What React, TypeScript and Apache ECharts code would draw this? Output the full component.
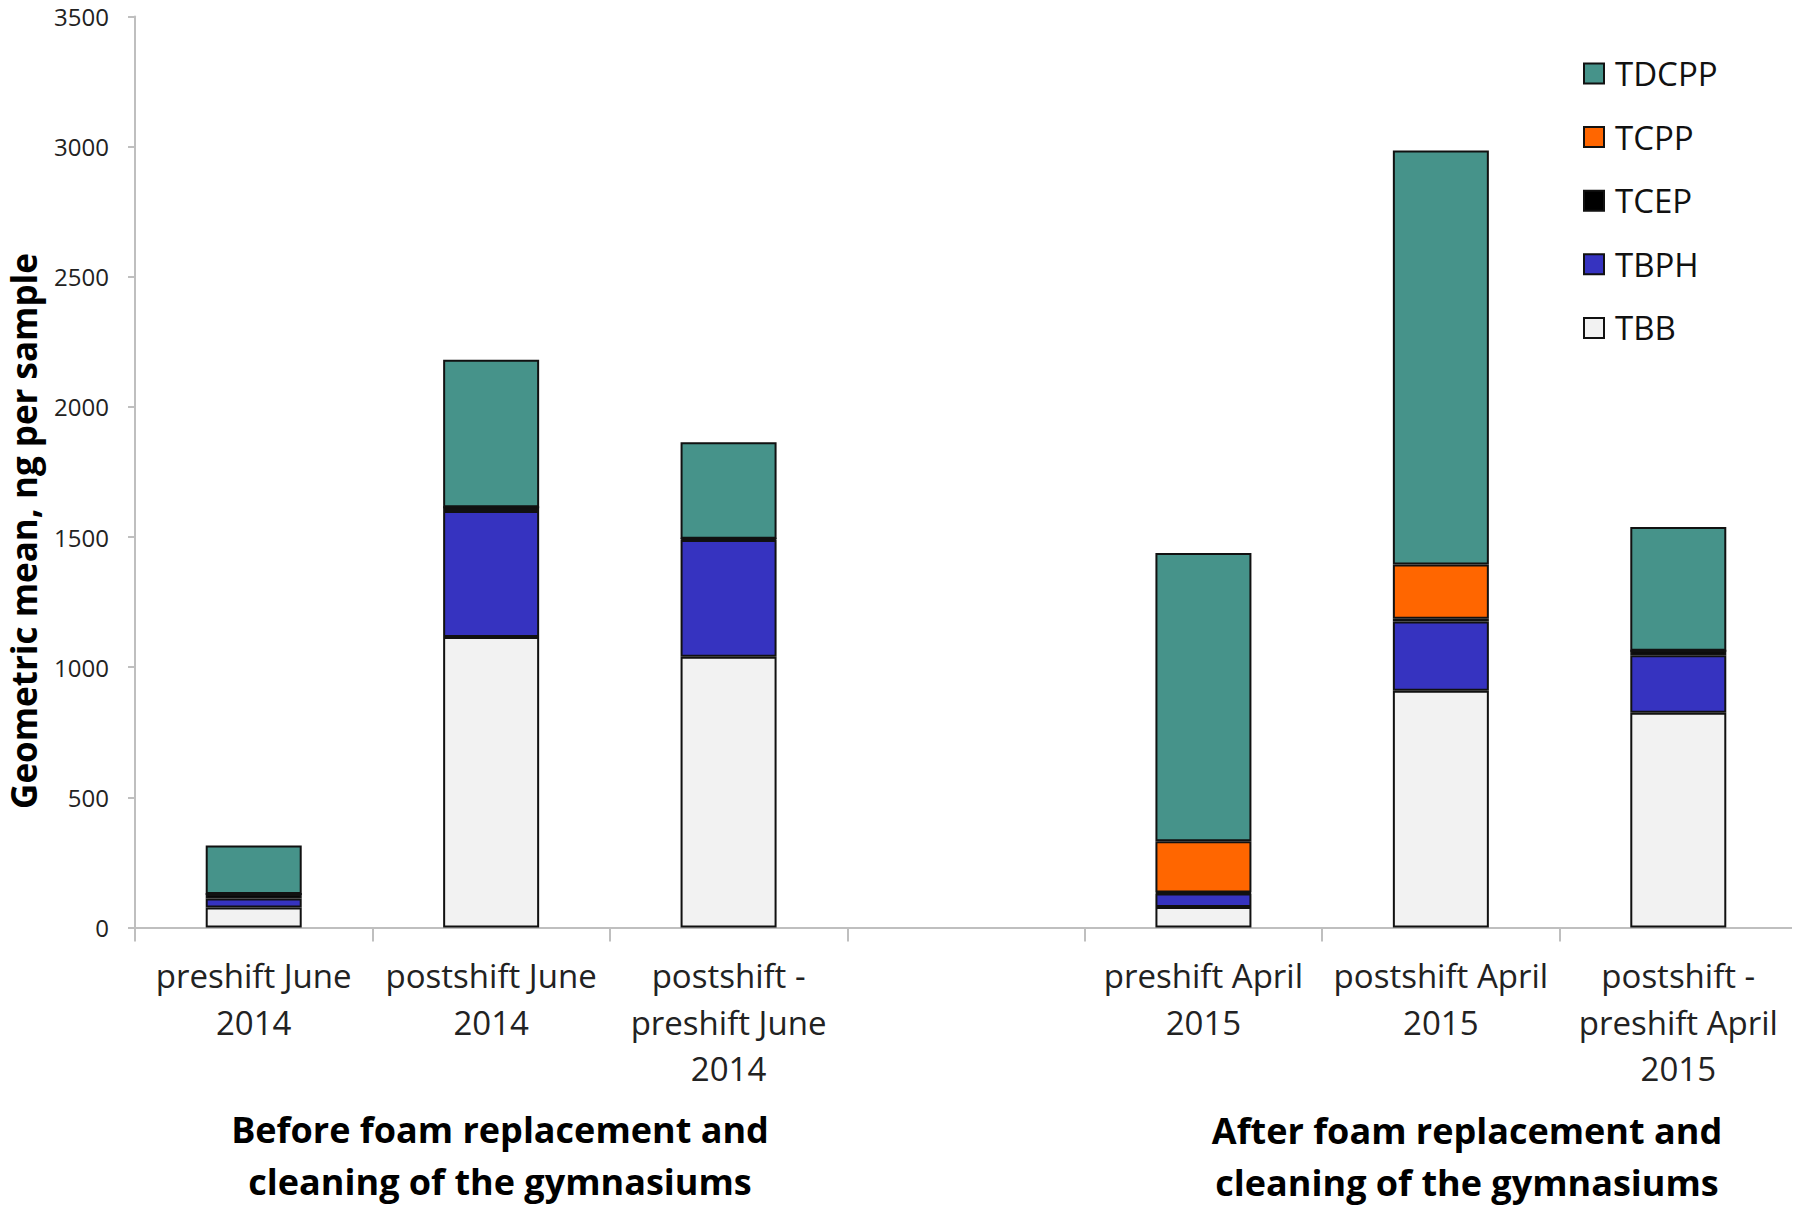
import React, { useEffect, useRef } from "react";
import * as echarts from "echarts";

const categories = [
  "preshift June\n2014",
  "postshift June\n2014",
  "postshift -\npreshift June\n2014",
  "",
  "preshift April\n2015",
  "postshift April\n2015",
  "postshift -\npreshift April\n2015",
];
const seriesNames = ["TBB", "TBPH", "TCEP", "TCPP", "TDCPP"];
const legendOrder = ["TDCPP", "TCPP", "TCEP", "TBPH", "TBB"];
const TBB = [77, 1116, 1040, null, 79, 910, 825];
const TBPH = [34, 484, 449, null, 52, 266, 221];
const TCEP = [18, 15, 5, null, 3, 10, 17];
const TCPP = [0, 0, 0, null, 197, 209, 0];
const TDCPP = [186, 566, 370, null, 1108, 1590, 476];
const yTicks = { min: 0, max: 3500, interval: 500 };
const groupLabels = [
  "Before foam replacement and\ncleaning of the gymnasiums",
  "After foam replacement and\ncleaning of the gymnasiums",
];
const yAxisTitle = "Geometric mean, ng per sample";

const colors: Record<string, string> = {
  TBB: "#f2f2f2",
  TBPH: "#3633c0",
  TCEP: "#000000",
  TCPP: "#ff6600",
  TDCPP: "#46938a",
};
const values: Record<string, (number | null)[]> = { TBB, TBPH, TCEP, TCPP, TDCPP };

const FONT = "'Open Sans', 'Noto Sans', sans-serif";

export default function App() {
  const ref = useRef<HTMLDivElement>(null);
  useEffect(() => {
    if (!ref.current) return;
    const chart = echarts.init(ref.current, null, { renderer: "svg" });
    chart.setOption({
      animation: false,
      backgroundColor: "#ffffff",
      textStyle: { fontFamily: FONT },
      grid: {
        left: 135,
        right: 3,
        top: 16.5,
        bottom: 278.5,
        containLabel: false,
        outerBoundsMode: "none",
      },
      legend: {
        orient: "vertical",
        left: 1583,
        top: 57,
        padding: 0,
        data: legendOrder,
        itemWidth: 20,
        itemHeight: 20,
        itemGap: 30.6,
        icon: "rect",
        selectedMode: false,
        textStyle: { fontSize: 33, color: "#111111", padding: [0, 0, 0, 6], fontFamily: FONT },
      },
      xAxis: {
        type: "category",
        data: categories,
        axisLine: { lineStyle: { color: "#bfbfbf", width: 2 } },
        axisTick: { show: true, length: 14, lineStyle: { color: "#bfbfbf", width: 2 } },
        axisLabel: {
          interval: 0,
          fontSize: 33,
          lineHeight: 46.5,
          margin: 25,
          color: "#222222",
          fontFamily: FONT,
        },
      },
      yAxis: {
        type: "value",
        min: yTicks.min,
        max: yTicks.max,
        interval: yTicks.interval,
        axisLine: { show: true, lineStyle: { color: "#bfbfbf", width: 2 } },
        axisTick: { show: true, length: 7, lineStyle: { color: "#bfbfbf", width: 2 } },
        splitLine: { show: false },
        axisLabel: {
          fontSize: 24,
          color: "#222222",
          margin: 26,
          fontFamily: FONT,
          formatter: (v: number) => String(v),
        },
      },
      series: seriesNames.map((name) => ({
        name,
        type: "bar",
        stack: "total",
        barWidth: 96,
        data: values[name],
        itemStyle: { color: colors[name], borderColor: "#111111", borderWidth: 2 },
      })),
      graphic: [
        {
          type: "text",
          x: 23,
          y: 531,
          rotation: Math.PI / 2,
          style: {
            text: yAxisTitle,
            fontSize: 35,
            fontWeight: "bold",
            fontFamily: FONT,
            fill: "#000000",
            align: "center",
            verticalAlign: "middle",
          },
        },
        {
          type: "text",
          x: 500,
          y: 1155,
          style: {
            text: groupLabels[0],
            fontSize: 36,
            fontWeight: "bold",
            fontFamily: FONT,
            lineHeight: 52,
            fill: "#000000",
            align: "center",
            verticalAlign: "middle",
          },
        },
        {
          type: "text",
          x: 1467,
          y: 1156,
          style: {
            text: groupLabels[1],
            fontSize: 36,
            fontWeight: "bold",
            fontFamily: FONT,
            lineHeight: 52,
            fill: "#000000",
            align: "center",
            verticalAlign: "middle",
          },
        },
      ],
    });
    return () => chart.dispose();
  }, []);
  return <div ref={ref} style={{ width: 1800, height: 1206, marginLeft: -8, marginTop: -8 }} />;
}
